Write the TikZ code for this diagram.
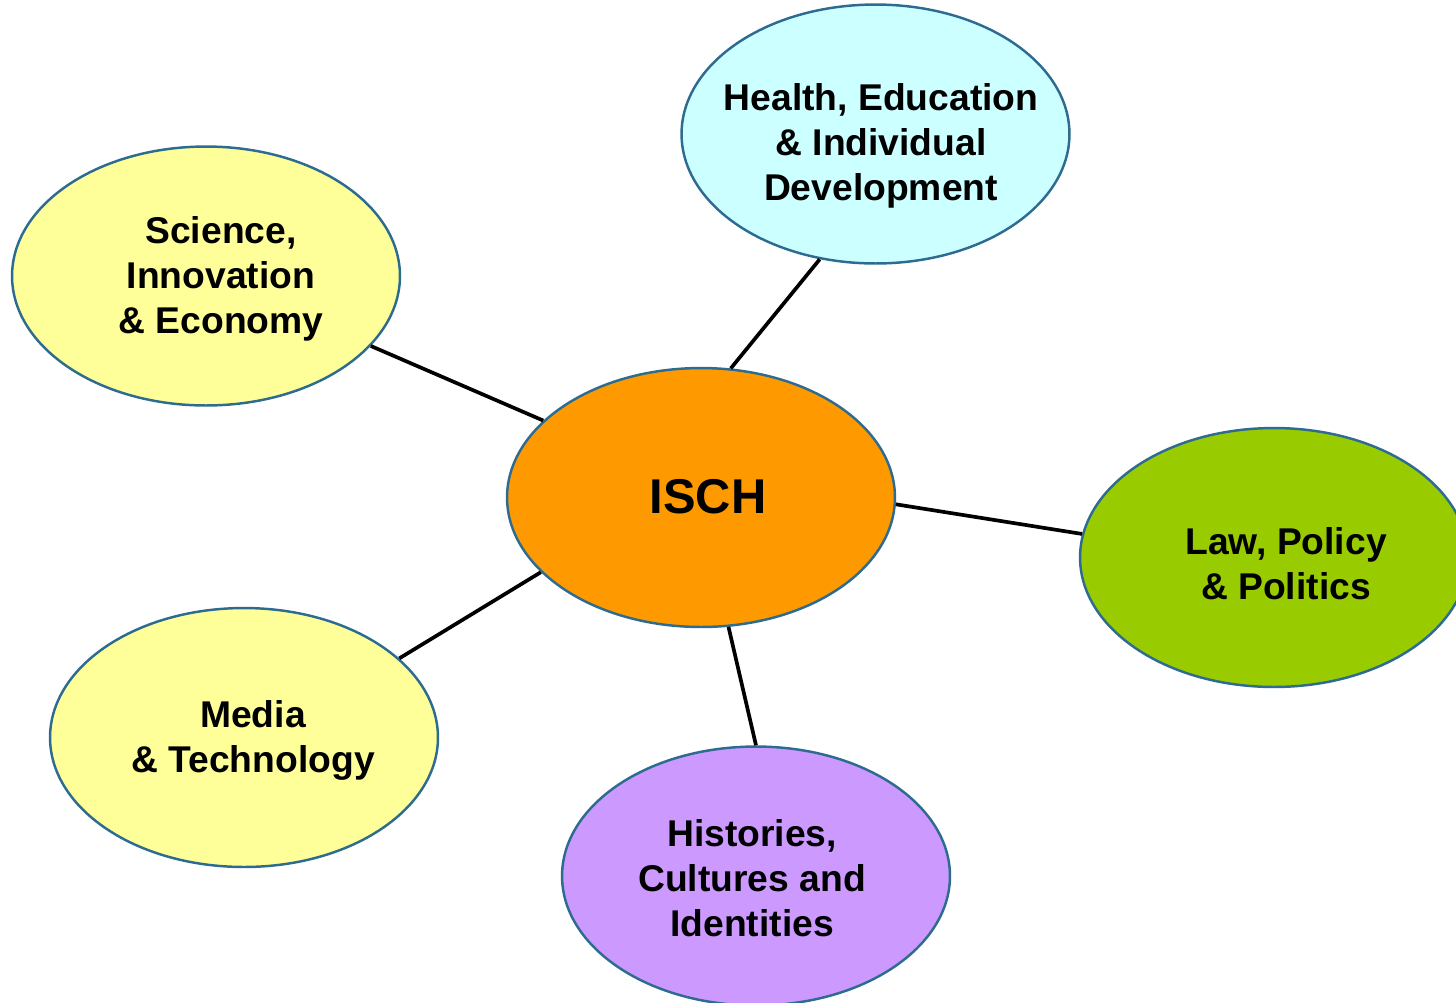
\documentclass[tikz,border=0pt]{standalone}
\usepackage{fontspec}
\setmainfont{Liberation Sans}
\usetikzlibrary{shapes.geometric}

\definecolor{rim}{RGB}{46,107,145}
\definecolor{ischorange}{HTML}{FF9900}
\definecolor{healthcyan}{HTML}{CCFFFF}
\definecolor{paleyellow}{HTML}{FFFF99}
\definecolor{lawgreen}{HTML}{99CC00}
\definecolor{histlilac}{HTML}{CC99FF}

\begin{document}
\begin{tikzpicture}[x=0.02cm, y=-0.02cm]
	\tikzset{topic/.style={ellipse, draw=rim, line width=1.4pt, minimum width=7.76cm, minimum height=5.18cm, inner sep=0pt}}
	\tikzset{caption/.style={align=center, inner sep=0pt, font=\fontsize{21.2}{25.6}\selectfont\bfseries}}
	\tikzset{link/.style={line width=2.1pt, black}}

	\useasboundingbox (0,0) rectangle (1456,1002);
	\clip (0,0) rectangle (1456,1002);

	% the six ellipses
	\node[topic, fill=ischorange] (isch) at (701,497.5) {};
	\node[topic, fill=healthcyan] (health) at (875.5,134) {};
	\node[topic, fill=paleyellow] (science) at (206,276) {};
	\node[topic, fill=lawgreen] (law) at (1274,557.5) {};
	\node[topic, fill=paleyellow] (media) at (244,737.5) {};
	\node[topic, fill=histlilac] (histories) at (756,876) {};

	\draw[link] (isch.77.3) -- (health.246.4);
	\draw[link] (isch.154.9) -- (science.-23.6);
	\draw[link] (isch.-2.2) -- (law.173.4);
	\draw[link] (isch.205.7) -- (media.27.6);
	\draw[link] (isch.282.3) -- (histories.90.4);

	% texts
	\node[caption, font=\fontsize{27.8}{31}\selectfont\bfseries] (ischtext) at (708,497) {ISCH};
	\node[caption] (healthtext) at (881,146) {Health, Education\\ \& Individual\\ Development};
	\node[caption] (sciencetext) at (221,279) {Science,\\ Innovation\\ \& Economy};
	\node[caption] (lawtext) at (1286,564) {Law, Policy\\ \& Politics};
	\node[caption] (mediatext) at (253,740) {Media\\ \& Technology};
	\node[caption] (historiestext) at (752,878) {Histories,\\ Cultures and\\ Identities};
\end{tikzpicture}
\end{document}
